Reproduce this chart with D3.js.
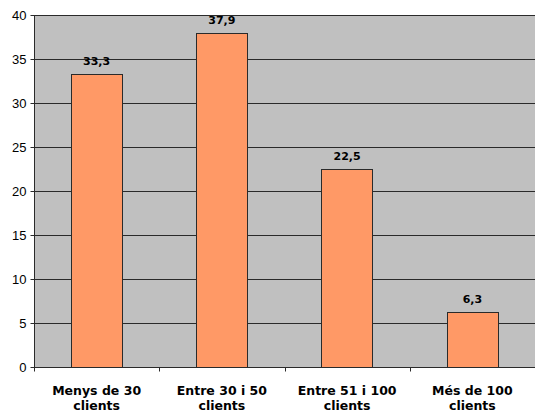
<!DOCTYPE html>
<html>
<head>
<meta charset="utf-8">
<script src="https://cdn.jsdelivr.net/npm/d3@7"></script>
<style>
  body { margin: 0; background: #fff; }
</style>
</head>
<body>
<div id="chart"></div>
<script>
// data
var categories = [["Menys de 30", "clients"], ["Entre 30 i 50", "clients"], ["Entre 51 i 100", "clients"], ["Més de 100", "clients"]];
var values = [33.3, 37.9, 22.5, 6.3];
var labels = ["33,3", "37,9", "22,5", "6,3"];
var yTicks = [0, 5, 10, 15, 20, 25, 30, 35, 40];

var width = 535, height = 412;
var margin = { top: 15, right: 0, bottom: 45, left: 34 };
var w = width - margin.left - margin.right;
var h = height - margin.top - margin.bottom;

var svg = d3.select("#chart").append("svg")
  .attr("width", width)
  .attr("height", height);

var g = svg.append("g")
  .attr("transform", "translate(" + margin.left + "," + margin.top + ")");

var x = d3.scaleBand().domain(d3.range(categories.length)).range([0, w]).paddingInner(0).paddingOuter(0);
var y = d3.scaleLinear().domain([0, 40]).range([h, 0]);

// plot background
g.append("rect")
  .attr("width", w).attr("height", h)
  .attr("fill", "#c0c0c0");

// gridlines
g.selectAll(".grid").data(yTicks).enter().append("line")
  .attr("x1", 0).attr("x2", w)
  .attr("y1", function (d) { return Math.round(y(d)) + 0.5; })
  .attr("y2", function (d) { return Math.round(y(d)) + 0.5; })
  .attr("stroke", "#2a2a2a").attr("stroke-width", 1);

// bars
var bw = x.bandwidth() * 0.41;
g.selectAll(".bar").data(values).enter().append("rect")
  .attr("x", function (d, i) { return Math.round(x(i) + (x.bandwidth() - bw) / 2) + 0.5; })
  .attr("y", function (d) { return Math.round(y(d)) + 0.5; })
  .attr("width", Math.round(bw))
  .attr("height", function (d) { return Math.round(h - y(d)); })
  .attr("fill", "#ff9966")
  .attr("stroke", "#2a2a2a").attr("stroke-width", 1);

// value labels
g.selectAll(".val").data(values).enter().append("text")
  .attr("x", function (d, i) { return x(i) + x.bandwidth() / 2; })
  .attr("y", function (d) { return y(d) - 9; })
  .attr("text-anchor", "middle")
  .style("font-family", "DejaVu Sans, Verdana, sans-serif")
  .style("font-weight", "bold")
  .style("font-size", "11px")
  .text(function (d, i) { return labels[i]; });

// y axis
var yAxis = g.append("g")
  .attr("transform", "translate(0.5,0)")
  .call(d3.axisLeft(y).tickValues(yTicks).tickSize(4).tickPadding(4));
yAxis.select(".domain").attr("stroke", "#2a2a2a").attr("d", "M0," + h + "V0");
yAxis.selectAll(".tick line").attr("stroke", "#2a2a2a");
yAxis.selectAll("text")
  .style("font-family", "Liberation Sans, Arial, sans-serif")
  .style("font-size", "13px")
  .attr("fill", "#000");

// x axis
var xAxis = g.append("g")
  .attr("transform", "translate(0," + (Math.round(h) + 0.5) + ")");
xAxis.append("line").attr("x1", 0).attr("x2", w).attr("stroke", "#2a2a2a");
xAxis.selectAll(".xt").data(d3.range(categories.length + 1)).enter().append("line")
  .attr("x1", function (d) { return Math.round(d * x.bandwidth()) + 0.5; })
  .attr("x2", function (d) { return Math.round(d * x.bandwidth()) + 0.5; })
  .attr("y1", 0).attr("y2", 4)
  .attr("stroke", "#2a2a2a");

var cl = xAxis.selectAll(".cat").data(categories).enter().append("text")
  .attr("text-anchor", "middle")
  .attr("transform", function (d, i) { return "translate(" + (x(i) + x.bandwidth() / 2) + ",27)"; })
  .style("font-family", "DejaVu Sans, Verdana, sans-serif")
  .style("font-weight", "bold")
  .style("font-size", "12.5px");
cl.selectAll("tspan").data(function (d) { return d; }).enter().append("tspan")
  .attr("x", 0)
  .attr("dy", function (d, i) { return i === 0 ? 0 : 15; })
  .text(function (d) { return d; });
</script>
</body>
</html>
